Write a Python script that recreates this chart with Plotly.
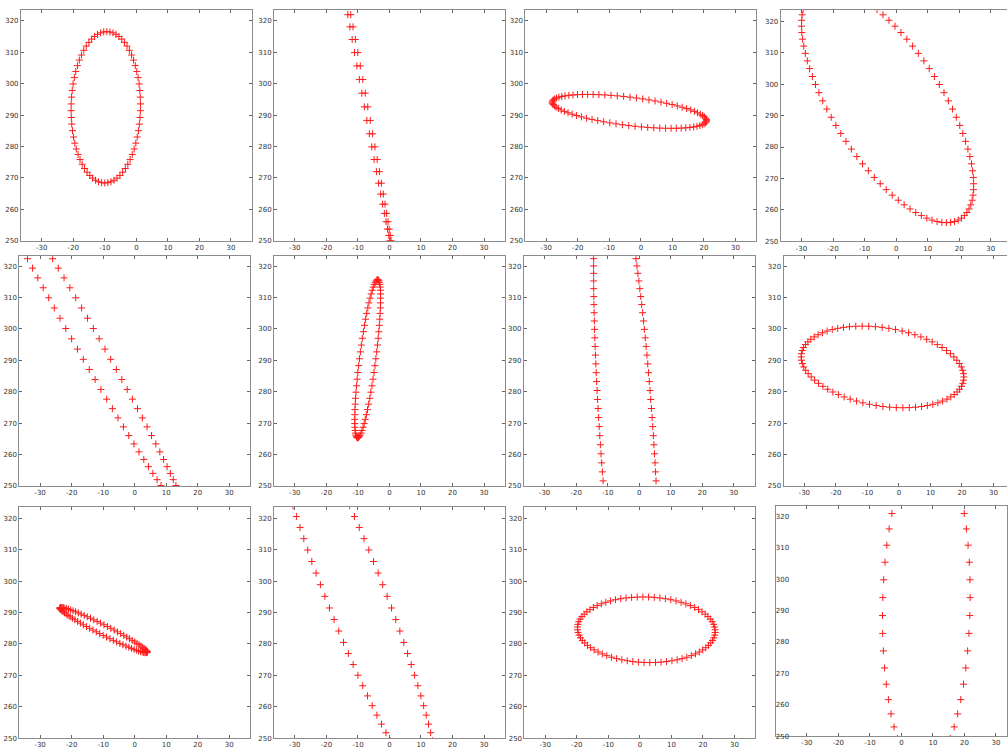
import numpy as np
import plotly.graph_objects as go

# ---------------- data ----------------
# each panel shows one sampled closed orbit: x = cx + ax*cos(t), y = cy + ay*cos(t + phase)
centre_x = [-9.7, -8.2, -3.65, -2.7, -16.55, -6.9, -4.0, -5.2, -9.87, -11.3, 2.05, 7.9]
centre_y = [292.5, 297.0, 291.2, 293.4, 298.5, 290.5, 266.0, 287.9, 284.4, 297.0, 284.5, 291.25]
amp_x = [11.0, 9.1, 24.5, 27.3, 32.7, 4.1, 10.46, 25.8, 13.83, 26.7, 21.85, 13.9]
amp_y = [24.1, 50.0, 5.4, 37.5, 57.5, 25.2, 92.0, 13.0, 7.2, 65.0, 10.45, 52.8]
phase_cos = [0.03, -0.9982, -0.54, -0.683, -0.991, 0.774, -0.583, -0.25, -0.97, -0.929, -0.05, 0.07]
n_points = [70, 72, 76, 90, 110, 72, 200, 76, 80, 110, 76, 58]

x_ticks = [-30, -20, -10, 0, 10, 20, 30]
y_ticks = [250, 260, 270, 280, 290, 300, 310, 320]

# ---------------- layout (pixels) ----------------
W, H = 1008, 753
left_px = [21, 274.3, 526, 781.5, 19.3, 274.3, 524.3, 784.3, 19.3, 274.3, 525, 776.7]
top_px = [10, 10, 10, 10.5, 257.5, 257.5, 257.5, 257.5, 510, 510, 510, 509]
panel_w = 231.0
panel_h = [232, 232, 232, 232, 231, 231, 231, 231, 232, 232, 232, 231]
x_start = [-36.6] * 11 + [-39.8]
scale = 3.156

fig = go.Figure()
layout = dict(
    width=W, height=H, margin=dict(l=0, r=0, t=0, b=0),
    paper_bgcolor="white", plot_bgcolor="white", showlegend=False,
)

tick_font = dict(family="DejaVu Sans", size=7, color="#333333")
axis_common = dict(
    showline=True, linecolor="#8c8c8c", linewidth=1,
    ticks="inside", ticklen=3, tickcolor="#666666", tickwidth=1,
    showgrid=False, zeroline=False, tickfont=tick_font,
)
marker_style = dict(symbol="cross-thin", size=5, color="#ff1a1a",
                    line=dict(width=1, color="#ff1a1a"))

for i in range(12):
    k = "" if i == 0 else str(i + 1)
    L, T = left_px[i], top_px[i]
    right_clip = min(L + panel_w, W)
    x0 = x_start[i]
    x1 = x0 + (right_clip - L) / scale
    ph = panel_h[i]
    y1 = 250 + ph / scale
    edge = right_clip >= W
    layout["xaxis" + k] = dict(
        axis_common, domain=[L / W, right_clip / W], range=[x0, x1],
        anchor="y" + k, mirror="ticks",
        tickvals=x_ticks, ticktext=[str(v) for v in x_ticks],
    )
    ydict = dict(
        axis_common, domain=[1 - (T + ph) / H, 1 - T / H], range=[250, y1],
        anchor="x" + k, mirror=False if edge else "ticks",
        tickvals=y_ticks, ticktext=[str(v) for v in y_ticks],
    )
    if i == 11:
        ydict["showticklabels"] = False
        ydict["ticks"] = ""
        layout["yaxis13"] = dict(
            overlaying="y12", anchor="free", position=790 / W, side="left",
            range=[250, y1], showline=False, ticks="", showgrid=False,
            zeroline=False, tickfont=tick_font,
            tickvals=y_ticks, ticktext=[str(v) for v in y_ticks],
        )
        fig.add_trace(go.Scatter(x=[x0], y=[250], xaxis="x12", yaxis="y13",
                                 mode="markers", marker=dict(opacity=0),
                                 hoverinfo="skip"))
    layout["yaxis" + k] = ydict

    ph_ang = np.arccos(phase_cos[i])
    t = -ph_ang + np.linspace(0, 2 * np.pi, n_points[i], endpoint=False)
    xs = centre_x[i] + amp_x[i] * np.cos(t)
    ys = centre_y[i] + amp_y[i] * np.cos(t + ph_ang)
    fig.add_trace(go.Scatter(
        x=xs, y=ys, mode="markers", xaxis="x" + k, yaxis="y" + k,
        marker=marker_style, cliponaxis=True, hoverinfo="skip",
    ))

fig.update_layout(**layout)
fig.write_html("out.html")
